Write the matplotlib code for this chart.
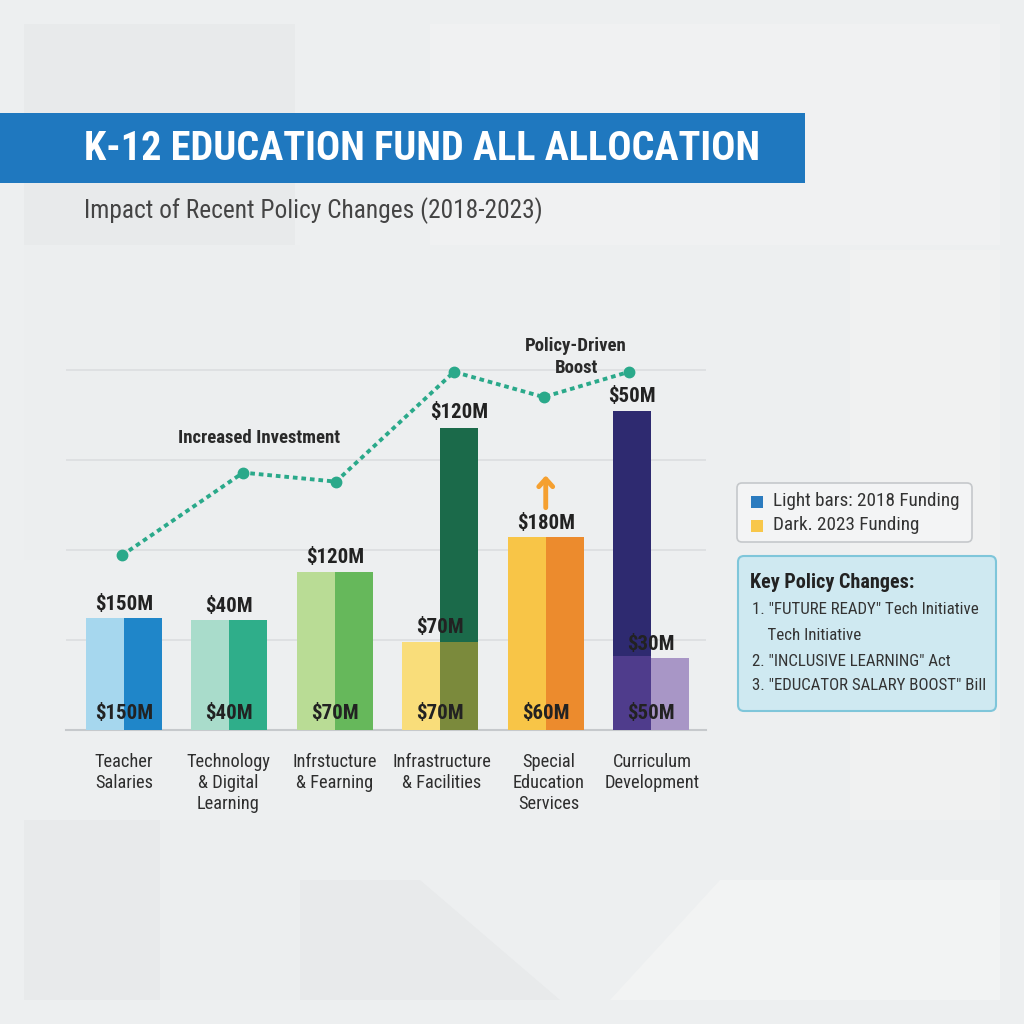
import numpy as np
import matplotlib
matplotlib.use('Agg')
import matplotlib.pyplot as plt
from matplotlib import font_manager
from matplotlib.patches import Rectangle, FancyBboxPatch, Polygon

# ---- data ----
categories = ['Teacher\nSalaries', 'Technology\n& Digital\nLearning', 'Infrstucture\n& Fearning',
              'Infrastructure\n& Facilities', 'Special\nEducation\nServices', 'Curriculum\nDevelopment']
light_heights = [62, 61, 88, 49, 107, 40]      # 2018 bars (drawn height)
dark_heights = [62, 61, 88, 168, 107, 177]     # 2023 bars (drawn height)
overlap_heights = [0, 0, 0, 49, 0, 41]         # shaded lower part of the dark bar
dark_on_left = [False, False, False, False, False, True]
light_colors = ['#a6d7ee', '#a9dccb', '#b9dc95', '#f9dd7a', '#f8c547', '#a896c6']
dark_colors = ['#1f86c9', '#2fae8a', '#66b85b', '#1b6a4a', '#ec8b2d', '#2e2a70']
overlap_colors = ['none', 'none', 'none', '#7b8a3c', 'none', '#4f3c8c']
light_top_labels = ['$150M', '$40M', '$120M', '$70M', '$180M', '$30M']
dark_top_labels = ['', '', '', '$120M', '', '$50M']
bottom_labels = ['$150M', '$40M', '$70M', '$70M', '$60M', '$50M']
trend_x = [-0.02, 1.13, 2.01, 3.13, 3.98, 4.79]
trend_y = [97, 143, 138, 199, 185, 199]
policies = ['1. "FUTURE READY" Tech Initiative', '    Tech Initiative',
            '2. "INCLUSIVE LEARNING" Act', '3. "EDUCATOR SALARY BOOST" Bill']

# ---- fonts: prefer a condensed face ----
available = {f.name for f in font_manager.fontManager.ttflist}
COND = None
for name in ['Roboto Condensed', 'Liberation Sans Narrow', 'Open Sans Condensed']:
    if name in available:
        COND = name
        break
FONT = COND if COND else 'Roboto'
sf = 1.0 if COND else 0.8
plt.rcParams['font.family'] = [FONT, 'DejaVu Sans']

fig = plt.figure(figsize=(10.24, 10.24), dpi=100)
fig.patch.set_facecolor('#edeff0')

# background axes in pixel coordinates
bg = fig.add_axes([0, 0, 1, 1], zorder=0)
bg.set_xlim(0, 1024)
bg.set_ylim(1024, 0)
bg.axis('off')


def ftext(x, y, s, **kw):
    # text placed in pixel coords but drawn above every axes
    return fig.text(x, y, s, transform=bg.transData, zorder=10, **kw)


# faint geometric texture
for (x0, y0, x1, y1, c) in [(24, 24, 295, 245, '#e8eaeb'), (430, 24, 1000, 245, '#f0f1f2'),
                            (24, 245, 300, 560, '#eceeef'), (850, 250, 1000, 820, '#f0f1f1'),
                            (24, 820, 160, 1000, '#e8eaeb'), (160, 820, 300, 1000, '#eceeef')]:
    bg.add_patch(Rectangle((x0, y0), x1 - x0, y1 - y0, color=c, lw=0))
bg.add_patch(Polygon([[300, 880], [420, 880], [560, 1000], [300, 1000]], color='#e8eaeb', lw=0))
bg.add_patch(Polygon([[720, 880], [1000, 880], [1000, 1000], [610, 1000]], color='#f2f3f3', lw=0))

# title banner
bg.add_patch(Rectangle((0, 113), 805, 70, color='#1f78bf', lw=0))
ftext(84, 149, 'K-12 EDUCATION FUND ALL ALLOCATION', color='white', fontsize=29 * sf,
      fontweight='bold', va='center', ha='left')
ftext(84, 211, 'Impact of Recent Policy Changes (2018-2023)', color='#444444',
      fontsize=18.3 * sf, va='center', ha='left')

# annotations
ftext(259, 438, 'Increased Investment', fontsize=13.5 * sf, fontweight='bold',
      color='#2a2a2a', ha='center', va='center')
ftext(576, 357, 'Policy-Driven\nBoost', fontsize=13.5 * sf, fontweight='bold',
      color='#2a2a2a', ha='center', va='center', linespacing=1.25)

# category labels
centers_px = [124, 228, 335, 442, 549, 652]
for cx, cat in zip(centers_px, categories):
    ftext(cx, 753, cat, fontsize=13.2 * sf, color='#2e2e2e', ha='center', va='top',
          linespacing=1.2)

# legend box
bg.add_patch(FancyBboxPatch((737, 483), 235, 59, boxstyle='round,pad=0,rounding_size=5',
                            fc='#f3f4f5', ec='#c5c8cb', lw=1.2))
bg.add_patch(Rectangle((751, 496), 12, 12, color='#2b7bbf', lw=0))
bg.add_patch(Rectangle((751, 520), 12, 12, color='#f8c74a', lw=0))
ftext(773, 501, 'Light bars: 2018 Funding', fontsize=13.8 * sf, color='#333333', va='center')
ftext(773, 525, 'Dark. 2023 Funding', fontsize=13.8 * sf, color='#333333', va='center')

# key policy box
bg.add_patch(FancyBboxPatch((738, 556), 258, 155, boxstyle='round,pad=0,rounding_size=6',
                            fc='#cfe9f1', ec='#7fc6da', lw=1.5))
ftext(750, 583, 'Key Policy Changes:', fontsize=14.5 * sf, fontweight='bold',
      color='#222222', va='center')
for yy, line in zip([610, 635, 661, 686], policies):
    ftext(752, yy, line, fontsize=12.2 * sf, color='#333333', va='center')

# ---- main chart ----
ax = fig.add_axes([66 / 1024, (1024 - 730) / 1024, 640 / 1024, 390 / 1024], zorder=2)
ax.patch.set_alpha(0)
x = np.arange(len(categories))
w = 0.36
light_x = np.where(dark_on_left, x + w / 2, x - w / 2)
dark_x = np.where(dark_on_left, x - w / 2, x + w / 2)

ax.bar(light_x, light_heights, width=w, color=light_colors, zorder=3)
ax.bar(dark_x, dark_heights, width=w, color=dark_colors, zorder=3)
ax.bar(dark_x, overlap_heights, width=w, color=overlap_colors, zorder=4)

# value labels
for i in range(len(categories)):
    ax.annotate(light_top_labels[i], (x[i], light_heights[i]), xytext=(0, 10),
                textcoords='offset points', ha='center', va='center', fontsize=15 * sf,
                fontweight='bold', color='#222222', zorder=6)
    if dark_top_labels[i]:
        ax.annotate(dark_top_labels[i], (dark_x[i], dark_heights[i]), xytext=(0, 11),
                    textcoords='offset points', ha='center', va='center', fontsize=15 * sf,
                    fontweight='bold', color='#222222', zorder=6)
    ax.annotate(bottom_labels[i], (x[i], 0), xytext=(0, 12), textcoords='offset points',
                ha='center', va='center', fontsize=15 * sf, fontweight='bold',
                color='#222222', zorder=6)

# trend line
ax.plot(trend_x, trend_y, color='#2aa98a', lw=2.8, ls=(0, (1.2, 1.0)), marker='o',
        ms=7.5, zorder=5)

# orange arrow above the special education group
ax.annotate('', xy=(4, 143), xytext=(4, 122),
            arrowprops=dict(arrowstyle='->,head_length=0.55,head_width=0.5', color='#f5a030',
                            lw=3.5), zorder=6)

ax.set_xlim(-0.55, 5.52)
ax.set_ylim(0, 216.7)
ax.set_yticks([50, 100, 150, 200])
ax.grid(axis='y', color='#dcdee0', lw=1.2, zorder=0)
ax.set_xticks([])
ax.tick_params(left=False, labelleft=False)
for s in ['top', 'right', 'left']:
    ax.spines[s].set_visible(False)
ax.spines['bottom'].set_color('#c6c9cc')
ax.spines['bottom'].set_linewidth(1.5)

fig.savefig('out.png', dpi=100)
